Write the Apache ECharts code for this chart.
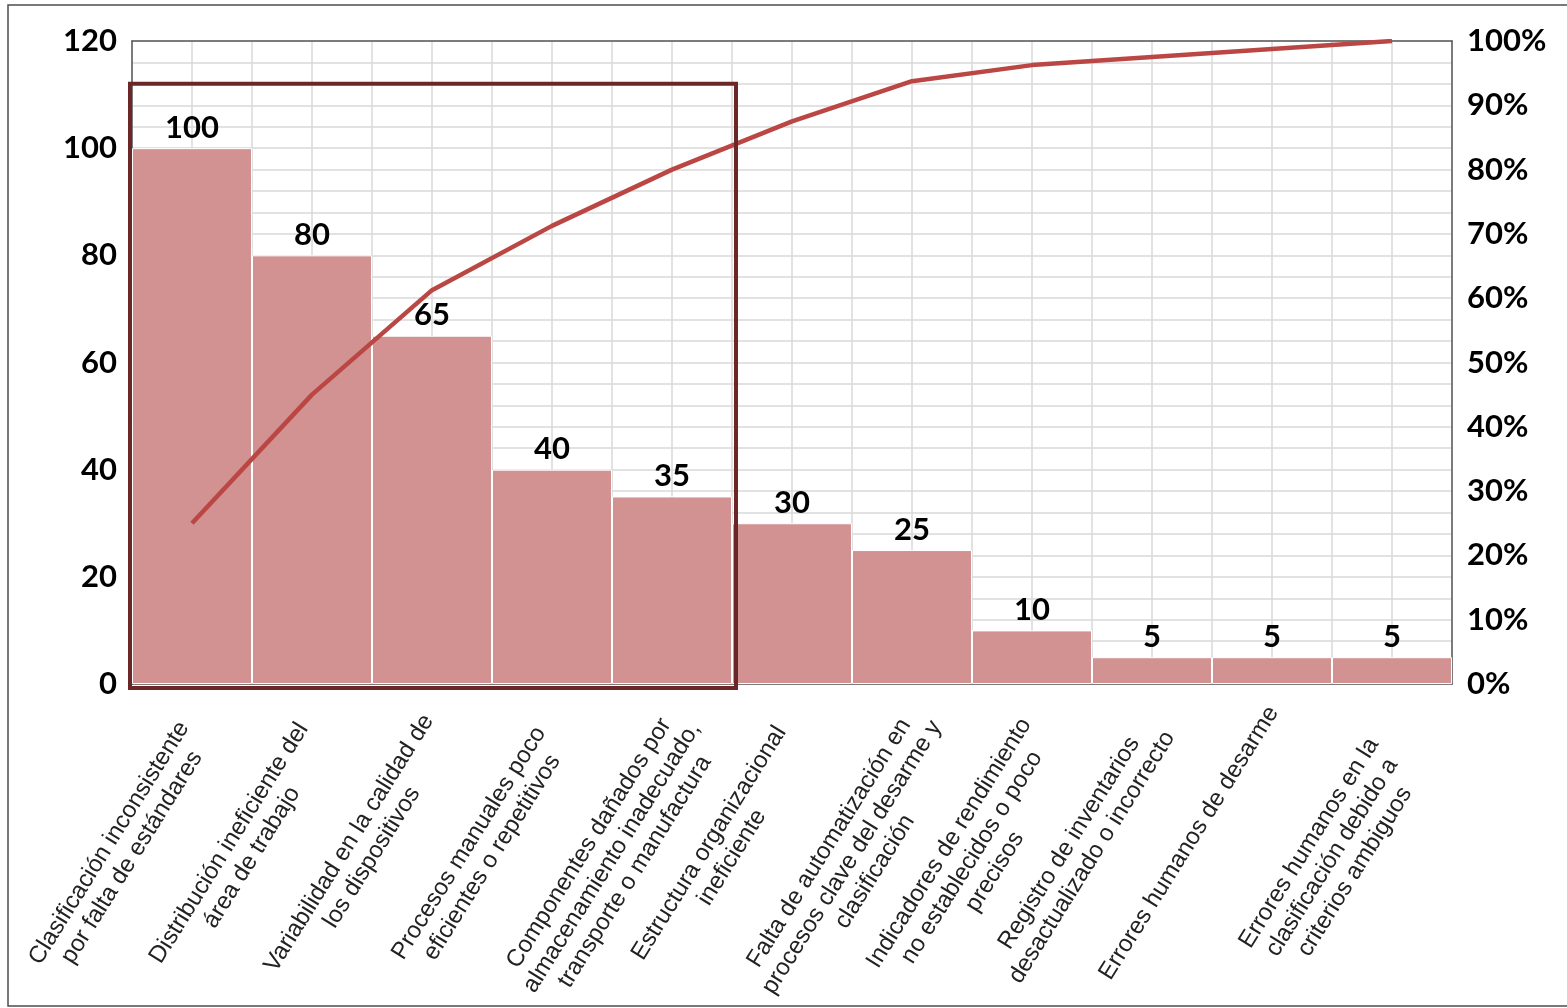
<!DOCTYPE html>
<html>
<head>
<meta charset="utf-8">
<script src="https://cdn.jsdelivr.net/npm/echarts@6/dist/echarts.min.js"></script>
<style>
html,body{margin:0;padding:0;background:#ffffff;}
#chart{width:1567px;height:1008px;}
</style>
</head>
<body>
<div id="chart"></div>
<script>
// ---- data ----
const categories = [
  'Clasificación inconsistente\npor falta de estándares',
  'Distribución ineficiente del\nárea de trabajo',
  'Variabilidad en la calidad de\nlos dispositivos',
  'Procesos manuales poco\neficientes o repetitivos',
  'Componentes dañados por\nalmacenamiento inadecuado,\ntransporte o manufactura',
  'Estructura organizacional\nineficiente',
  'Falta de automatización en\nprocesos clave del desarme y\nclasificación',
  'Indicadores de rendimiento\nno establecidos o poco\nprecisos',
  'Registro de inventarios\ndesactualizado o incorrecto',
  'Errores humanos de desarme',
  'Errores humanos en la\nclasificación debido a\ncriterios ambiguos'
];
const counts = [100, 80, 65, 40, 35, 30, 25, 10, 5, 5, 5];
const cumulativePct = [25, 45, 61.25, 71.25, 80, 87.5, 93.75, 96.25, 97.5, 98.75, 100];
const leftAxisRange = [0, 120];
const leftAxisStep = 20;
const rightAxisRange = [0, 100];
const rightAxisStep = 10;
const highlightRange = [0, 4];   // first and last highlighted category
const highlightTop = 112;        // top of highlight box, in left-axis units

// ---- chart ----
const chart = echarts.init(document.getElementById('chart'), null, {renderer: 'canvas'});

const numFont = {fontFamily: 'Lato', fontWeight: 'bold', fontSize: 31, color: '#000000'};
const axisLineStyle = {color: '#595959', width: 1.5};
const gridLineStyle = {color: '#d9d9d9', width: 1.5};

const option = {
  animation: false,
  backgroundColor: '#ffffff',
  grid: {left: 132, right: 115, top: 41, bottom: 324, containLabel: false, outerBoundsMode: 'none'},
  xAxis: [
    {
      type: 'category',
      data: categories,
      boundaryGap: true,
      axisLine: {show: true, onZero: false, lineStyle: axisLineStyle},
      axisTick: {show: false},
      splitLine: {show: false},
      axisLabel: {
        interval: 0,
        rotate: 58,
        align: 'center',
        verticalAlign: 'top',
        margin: 1,
        padding: [0, 356, 0, 0],
        fontFamily: 'Liberation Sans',
        fontSize: 24,
        lineHeight: 27,
        color: '#222222',
        hideOverlap: false
      }
    },
    {
      // half-category vertical gridlines
      type: 'value',
      position: 'top',
      min: 0,
      max: categories.length * 2,
      interval: 1,
      axisLine: {show: true, onZero: false, lineStyle: axisLineStyle},
      axisTick: {show: false},
      axisLabel: {show: false},
      splitLine: {show: true, lineStyle: gridLineStyle}
    }
  ],
  yAxis: [
    {
      type: 'value',
      min: leftAxisRange[0],
      max: leftAxisRange[1],
      interval: leftAxisStep,
      axisLine: {show: true, onZero: false, lineStyle: axisLineStyle},
      axisTick: {show: false},
      axisLabel: Object.assign({margin: 15}, numFont),
      splitLine: {show: true, lineStyle: gridLineStyle},
      minorTick: {show: false, splitNumber: 5},
      minorSplitLine: {show: true, lineStyle: gridLineStyle}
    },
    {
      type: 'value',
      position: 'right',
      min: rightAxisRange[0],
      max: rightAxisRange[1],
      interval: rightAxisStep,
      axisLine: {show: true, onZero: false, lineStyle: axisLineStyle},
      axisTick: {show: false},
      axisLabel: Object.assign({margin: 15, formatter: '{value}%'}, numFont),
      splitLine: {show: false}
    }
  ],
  series: [
    {
      type: 'bar',
      data: counts,
      xAxisIndex: 0,
      yAxisIndex: 0,
      barWidth: '100%',
      itemStyle: {color: '#d29292', borderColor: '#ffffff', borderWidth: 1},
      label: Object.assign({show: true, position: 'top', distance: 5}, numFont)
    },
    {
      type: 'line',
      data: cumulativePct,
      xAxisIndex: 0,
      yAxisIndex: 1,
      symbol: 'none',
      smooth: false,
      lineStyle: {color: '#bb4744', width: 4.5},
      z: 3
    }
  ]
};
chart.setOption(option);

// highlight box and outer frame, positioned through the axes
const px = v => chart.convertToPixel({xAxisIndex: 1}, v);
const py = v => chart.convertToPixel({yAxisIndex: 0}, v);
const boxLeft = px(highlightRange[0] * 2) - 2;
const boxRight = px((highlightRange[1] + 1) * 2) + 4;
const boxTop = py(highlightTop);
const boxBottom = py(leftAxisRange[0]) + 4;
chart.setOption({
  graphic: [
    {
      type: 'rect',
      z: 100,
      shape: {x: boxLeft, y: boxTop, width: boxRight - boxLeft, height: boxBottom - boxTop},
      style: {fill: 'none', stroke: '#6b2727', lineWidth: 4}
    },
    {
      type: 'rect',
      z: 100,
      shape: {x: 8, y: 5, width: 1600, height: 1001},
      style: {fill: 'none', stroke: '#4d4d4d', lineWidth: 1.5}
    }
  ]
});
</script>
</body>
</html>
